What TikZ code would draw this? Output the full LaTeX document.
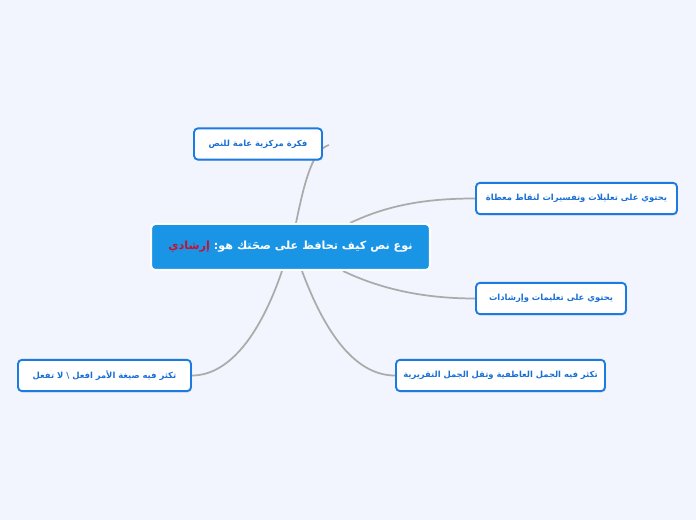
\documentclass[tikz,border=0pt]{standalone}
\usepackage{fontspec}
\usetikzlibrary{calc,shadows}
\newfontfamily\arabicfont[Script=Arabic]{DejaVu Sans}
\TeXXeTstate=1

\definecolor{bgcol}{HTML}{F2F5FD}
\definecolor{rootcol}{HTML}{1A95E6}
\definecolor{edgecol}{HTML}{ABABAB}
\definecolor{leafline}{HTML}{1B7BE0}
\definecolor{leaftext}{HTML}{1A6FD6}
\definecolor{redword}{HTML}{C8102E}

\pgfdeclarelayer{background}
\pgfdeclarelayer{edges}
\pgfsetlayers{background,edges,main}

\tikzset{
  rootbox/.style={rectangle, rounded corners=3pt, fill=rootcol, draw=white,
    line width=1.5pt, text=white, font=\arabicfont\bfseries\fontsize{8.4}{10}\selectfont,
    minimum width=209pt, minimum height=34.5pt, inner sep=0pt},
  leafbox/.style={rectangle, rounded corners=3pt, fill=white, draw=leafline,
    line width=1.4pt, text=leaftext, font=\arabicfont\bfseries\fontsize{6.3}{8}\selectfont,
    minimum height=23.5pt, inner sep=0pt,
    drop shadow={opacity=0.2, shadow xshift=0.9pt, shadow yshift=-0.9pt}},
  branch/.style={draw=edgecol, line width=1.3pt}
}

\begin{document}
\begin{tikzpicture}[x=0.75pt, y=-0.75pt]
      \begin{pgfonlayer}{background}
      \fill [bgcol] (0,0) rectangle (696,520);
      \end{pgfonlayer}
      \useasboundingbox (0,0) rectangle (696,520);

      % centre and branches
      \node [rootbox] (root) at (290.5,247)
        {\textcolor{redword}{\beginR إرشادي\endR}\ \textcolor{white}{\beginR نوع نص كيف تحافظ على صحَتك هو:\endR}};

      \node [leafbox, minimum width=96pt] (idea) at (258,144)
        {\beginR فكرة مركزية عامة للنص\endR};
      \node [leafbox, minimum width=150.75pt] (reasons) at (576.5,198.5)
        {\beginR يحتوي على تعليلات وتفسيرات لنقاط معطاة\endR};
      \node [leafbox, minimum width=112.5pt] (rules) at (551,298.5)
        {\beginR يحتوي على تعليمات وإرشادات\endR};
      \node [leafbox, minimum width=156.75pt] (emotion) at (500.5,375.5)
        {\beginR تكثر فيه الجمل العاطفية وتقل الجمل التقريرية\endR};
      \node [leafbox, minimum width=129.75pt] (imperative) at (104.5,375.5)
        {\beginR تكثر فيه صيغة الأمر افعل \textbackslash{} لا تفعل\endR};

      % connectors, behind the boxes
      \begin{pgfonlayer}{edges}
      \draw [branch] ($(root.north)+(5.5,0)$)
        .. controls +(9,-44) and +(-16,5) .. ($(idea.east)+(6,1)$);
      \draw [branch] ($(root.north)+(59.5,0)$)
        .. controls +(40,-19) and +(-46,0) .. (reasons.west);
      \draw [branch] ($(root.south)+(52.5,0)$)
        .. controls +(42,20) and +(-46,0) .. (rules.west);
      \draw [branch] ($(root.south)+(11.5,0)$)
        .. controls +(26,70) and +(-36,0) .. (emotion.west);
      \draw [branch] ($(root.south)+(-8.5,0)$)
        .. controls +(-24,70) and +(34,0) .. (imperative.east);
      \end{pgfonlayer}

    \end{tikzpicture}
\end{document}
